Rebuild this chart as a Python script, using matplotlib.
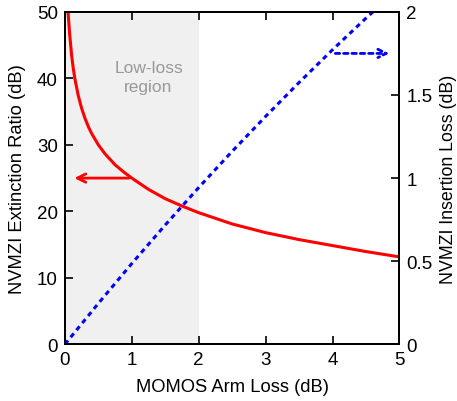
import numpy as np
import matplotlib.pyplot as plt

plt.rcParams['font.family'] = ['Liberation Sans', 'DejaVu Sans']

# arm loss (dB) and extinction ratio (dB)
arm_loss = [0.047, 0.07, 0.1, 0.125, 0.15, 0.2, 0.25, 0.3, 0.35, 0.4, 0.5, 0.6, 0.75,
            0.875, 1.0, 1.25, 1.5, 1.75, 2.0, 2.5, 3.0, 3.5, 4.0, 4.5, 5.0]
ext_ratio = [50.0, 46.8, 43.5, 41.5, 39.9, 37.4, 35.5, 34.0, 32.75, 31.7, 30.0, 28.65, 27.0,
             25.95, 25.0, 23.3, 21.9, 20.8, 19.8, 18.1, 16.8, 15.75, 14.85, 13.95, 13.15]

# insertion loss (dB)
il_loss = [0, 0.5, 1.0, 1.5, 2.0, 2.5, 3.0, 3.5, 4.0, 4.5, 5.0]
ins_loss = [0, 0.246, 0.486, 0.718, 0.943, 1.161, 1.371, 1.575, 1.772, 1.962, 2.145]

fig = plt.figure(figsize=(4.57, 4.02), dpi=100)
ax = fig.add_axes([0.142, 0.141, 0.732, 0.827])
ax2 = ax.twinx()

# shaded low-loss region
ax.axvspan(0, 2, color='#f0f0f0', lw=0, zorder=0)
ax.text(1.25, 40.2, 'Low-loss\nregion', color='#999999', fontsize=12.5,
        ha='center', va='center', linespacing=1.3)

ax.plot(arm_loss, ext_ratio, color='red', lw=2.2)
ax.annotate('', xy=(0.1, 25), xytext=(1.0, 25),
            arrowprops=dict(arrowstyle='->', color='red', lw=2, mutation_scale=15))

ax2.plot(il_loss, ins_loss, color='blue', lw=2.2, ls=(0, (1.6, 1.4)))
ax2.annotate('', xy=(4.89, 1.75), xytext=(4.0, 1.75),
             arrowprops=dict(arrowstyle='->', color='blue', lw=2, ls=(0, (1.6, 1.4)),
                             mutation_scale=15))

ax.set_xlim(0, 5)
ax.set_ylim(0, 50)
ax2.set_ylim(0, 2)
ax.set_xticks(range(0, 6))
ax.set_yticks(range(0, 51, 10))
ax2.set_yticks([0, 0.5, 1, 1.5, 2])
ax2.set_yticklabels(['0', '0.5', '1', '1.5', '2'])

ax.tick_params(direction='in', top=True, length=6, width=1.2, labelsize=13.5, pad=5)
ax2.tick_params(direction='in', length=6, width=1.2, labelsize=13.5, pad=5)
for a in (ax, ax2):
    for s in a.spines.values():
        s.set_linewidth(1.4)

ax.set_xlabel('MOMOS Arm Loss (dB)', fontsize=13.2, labelpad=7)
ax.set_ylabel('NVMZI Extinction Ratio (dB)', fontsize=13.2, labelpad=8)
ax2.set_ylabel('NVMZI Insertion Loss (dB)', fontsize=12.8, labelpad=5)

fig.savefig('out.png', dpi=100)
